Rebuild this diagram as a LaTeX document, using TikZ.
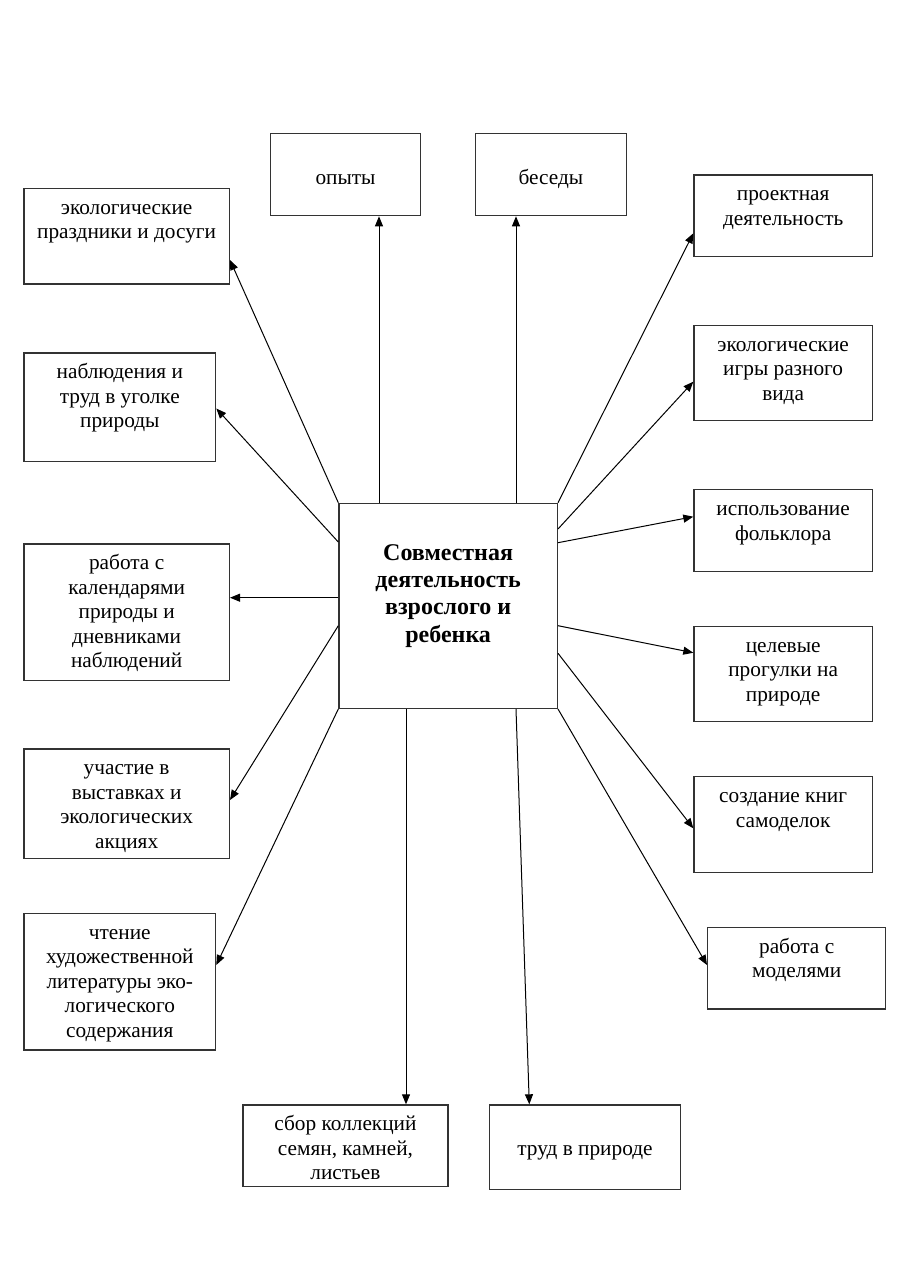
\documentclass[tikz,border=0pt]{standalone}
\usepackage{fontspec}
\setmainfont{Liberation Serif}
\usetikzlibrary{arrows.meta}
\newcommand\fl{\rule{0pt}{26pt}}
\newcommand\bxt[3]{\parbox[c][#2pt][t]{#1pt}{\centering\fontsize{21.3pt}{24.5pt}\selectfont\fl #3}}
\tikzset{
  box/.style={draw=black!80, line width=1.3pt, inner sep=0pt, anchor=north west},
  arr/.style={-{Triangle[length=10pt,width=8pt]}, line width=1pt, draw=black}
}
\begin{document}
\begin{tikzpicture}[x=1pt,y=-1pt]
\useasboundingbox[fill=white] (0,0) rectangle (905,1280);
% boxes
\node[box] (opyty)  at (269.7,133)   {\bxt{150.3}{82}{\\опыты}};
\node[box] (besedy) at (475,133)     {\bxt{150.5}{82}{\\беседы}};
\node[box] (prazd)  at (23.3,187.7)  {\bxt{205.4}{95.6}{экологические\\праздники и досуги}};
\node[box] (nabl)   at (23.3,352.3)  {\bxt{191.7}{108.7}{наблюдения и\\труд в уголке\\природы}};
\node[box] (proekt) at (693.3,174.3) {\bxt{178.4}{81.7}{проектная\\деятельность}};
\node[box] (igry)   at (693.3,324.7) {\bxt{178.4}{95.3}{экологические\\игры разного\\вида}};
\node[box] (c)      at (338.3,502.7) {\parbox[c][205pt][t]{218.4pt}{\centering\bfseries\fontsize{24pt}{27.3pt}\selectfont\rule{0pt}{57pt}Совместная\\деятельность\\взрослого и\\ребенка}};
\node[box] (kal)    at (23.3,543.3)  {\bxt{205.4}{136.7}{работа с\\календарями\\природы и\\дневниками\\наблюдений}};
\node[box] (folk)   at (693.3,489)   {\bxt{178.4}{81.7}{использование\\фольклора}};
\node[box] (cel)    at (693.3,625.7) {\bxt{178.4}{95.3}{целевые\\прогулки на\\природе}};
\node[box] (uch)    at (23.3,748.3)  {\bxt{205.4}{109.4}{участие в\\выставках и\\экологических\\акциях}};
\node[box] (kn)     at (693.3,776)   {\bxt{178.4}{95.7}{создание книг\\самоделок}};
\node[box] (mod)    at (707,926.7)   {\bxt{178}{81.6}{работа с\\моделями}};
\node[box] (cht)    at (23.3,912.7)  {\bxt{191.7}{136.6}{чтение\\художественной\\литературы эко-\\логического\\содержания}};
\node[box] (sbor)   at (242.3,1104.3){\bxt{205}{81.7}{сбор коллекций\\семян, камней,\\листьев}};
\node[box] (trud)   at (488.7,1104.3){\bxt{191.3}{84.7}{\\труд в природе}};
% connectors
\draw[arr] (c.north -| 379,0) -- (opyty.south -| 379,0);
\draw[arr] (c.north -| 516,0) -- (besedy.south -| 516,0);
\draw[arr] (c.north west) -- (prazd.east |- 0,260);
\draw[arr] (c.west |- 0,542) -- (nabl.east |- 0,408.5);
\draw[arr] (c.west |- 0,597.7) -- (kal.east |- 0,597.7);
\draw[arr] (c.west |- 0,625.7) -- (uch.east |- 0,800);
\draw[arr] (c.south west) -- (cht.east |- 0,965);
\draw[arr] (c.south -| 406,0) -- (sbor.north -| 406,0);
\draw[arr] (c.south -| 516,0) -- (trud.north -| 529.3,0);
\draw[arr] (c.north east) -- (proekt.west |- 0,233.3);
\draw[arr] (c.east |- 0,529) -- (igry.west |- 0,381.7);
\draw[arr] (c.east |- 0,542.7) -- (folk.west |- 0,516.7);
\draw[arr] (c.east |- 0,625.7) -- (cel.west |- 0,652.7);
\draw[arr] (c.east |- 0,653.3) -- (kn.west |- 0,828.3);
\draw[arr] (c.south east) -- (mod.west |- 0,965);
\end{tikzpicture}
\end{document}
